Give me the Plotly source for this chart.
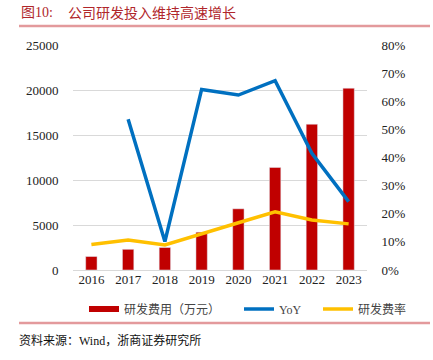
import plotly.graph_objects as go

years = ["2016", "2017", "2018", "2019", "2020", "2021", "2022", "2023"]
rd_expense = [1500, 2300, 2500, 4200, 6800, 11400, 16200, 20200]
yoy = [None, 53.6, 10.1, 64.2, 62.2, 67.3, 41.5, 24.3]
rd_rate = [9.1, 10.7, 8.9, 13.0, 16.8, 20.7, 17.8, 16.4]

left_ticks = [0, 5000, 10000, 15000, 20000, 25000]
left_labels = [str(v) for v in left_ticks]
right_ticks = [0, 10, 20, 30, 40, 50, 60, 70, 80]
right_labels = [f"{v}%" for v in right_ticks]

title_label = "图10:"
title_text = "公司研发投入维持高速增长"
source_text = "资料来源：Wind，浙商证券研究所"
names = ["研发费用（万元）", "YoY", "研发费率"]

SERIF = "Times New Roman, Liberation Serif, Noto Sans CJK SC"
RED, BLUE, YELLOW = "#C00000", "#0070C0", "#FFC000"
W, H = 433, 360
PL, PR, PT, PB = 73, 367, 45, 270
PW, PH = PR - PL, PB - PT


def px_x(p):
    return (p - PL) / PW


def px_y(p):
    return (PB - p) / PH


fig = go.Figure()
fig.add_trace(go.Bar(x=years, y=rd_expense, marker_color=RED, width=0.31,
                     showlegend=False, name=names[0]))
fig.add_trace(go.Scatter(x=[None], y=[None], mode="lines", line=dict(color=RED, width=6),
                         name=names[0], legend="legend"))
fig.add_trace(go.Scatter(x=years, y=yoy, mode="lines", line=dict(color=BLUE, width=3.5),
                         name=names[1], yaxis="y2", connectgaps=False, legend="legend2"))
fig.add_trace(go.Scatter(x=years, y=rd_rate, mode="lines", line=dict(color=YELLOW, width=3.5),
                         name=names[2], yaxis="y2", legend="legend3"))


def leg(swatch_x):
    return dict(orientation="h", xref="paper", yref="paper",
                x=px_x(swatch_x - 10), xanchor="left", y=px_y(309), yanchor="middle",
                font=dict(size=12, color="#444"), bgcolor="rgba(0,0,0,0)")


fig.update_layout(
    width=W, height=H,
    margin=dict(l=PL, r=W - PR, t=PT, b=H - PB, autoexpand=False),
    paper_bgcolor="white", plot_bgcolor="white",
    font=dict(family=SERIF, size=13, color="#222"),
    xaxis=dict(type="category", showgrid=False, showline=False, ticks="",
               tickfont=dict(size=13, color="#222")),
    yaxis=dict(range=[0, 25000], tickvals=left_ticks, ticktext=left_labels,
               showgrid=True, gridcolor="#D9D9D9",
               gridwidth=1, zeroline=True, zerolinecolor="#D9D9D9", zerolinewidth=1,
               showline=False, ticks="outside", ticklen=11, tickcolor="rgba(0,0,0,0)",
               tickfont=dict(size=13, color="#222")),
    yaxis2=dict(range=[0, 80], tickvals=right_ticks, ticktext=right_labels, overlaying="y",
                side="right", showgrid=False, zeroline=False, showline=False,
                ticks="outside", ticklen=11, tickcolor="rgba(0,0,0,0)",
                tickfont=dict(size=13, color="#222")),
    legend=leg(94),
    legend2=leg(249),
    legend3=leg(328),
    showlegend=True,
)

fig.add_annotation(text=title_label, xref="paper", yref="paper", x=px_x(20), y=px_y(13),
                   xanchor="left", yanchor="middle", showarrow=False, borderpad=0,
                   font=dict(size=14, color="#B0262B", family=SERIF))
fig.add_annotation(text=title_text, xref="paper", yref="paper", x=px_x(67), y=px_y(13),
                   xanchor="left", yanchor="middle", showarrow=False, borderpad=0,
                   font=dict(size=14, color="#B0262B", family=SERIF))
fig.add_annotation(text=source_text, xref="paper", yref="paper", x=px_x(18), y=px_y(340),
                   xanchor="left", yanchor="middle", showarrow=False, borderpad=0,
                   font=dict(size=12, color="#111", family=SERIF))

for ypix in (26, 323):
    fig.add_shape(type="line", xref="paper", yref="paper",
                  x0=px_x(19), x1=px_x(430), y0=px_y(ypix), y1=px_y(ypix),
                  line=dict(color="#E39A9C", width=2.5))

fig.write_html("out.html", config={"displayModeBar": False},
               post_script="document.body.style.margin='0px';")
